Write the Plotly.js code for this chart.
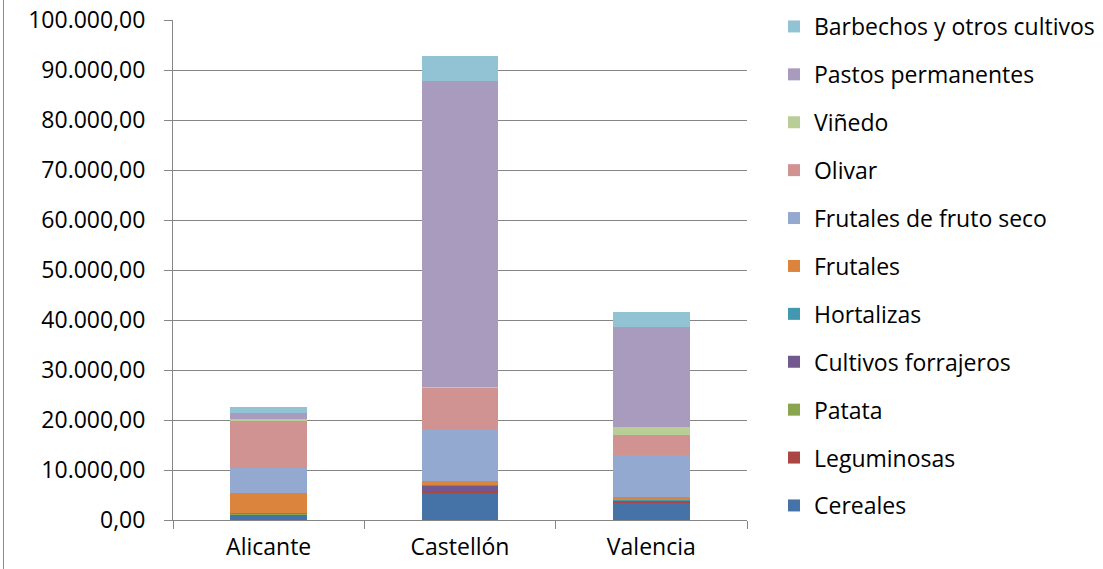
<!DOCTYPE html>
<html>
<head>
<meta charset="utf-8">
<script src="https://cdn.plot.ly/plotly-3.0.1.min.js"></script>
<style>
  html, body { margin: 0; padding: 0; background: #fff; }
  #wrap { position: relative; width: 1103px; height: 569px; }
  #frame { position: absolute; left: 3px; top: 0; width: 1px; height: 569px; background: #8c8c8c; }
  #chart { width: 1103px; height: 569px; }
</style>
</head>
<body>
<div id="wrap"><div id="chart"></div><div id="frame"></div></div>
<script>
const provincias = ["Alicante", "Castellón", "Valencia"];

const cereales            = [1000, 5470, 3470];
const leguminosas         = [50, 100, 100];
const patata              = [80, 100, 100];
const cultivosForrajeros  = [100, 1130, 150];
const hortalizas          = [100, 200, 180];
const frutales            = [4000, 800, 530];
const frutalesFrutoSeco   = [5000, 10330, 8400];
const olivar              = [9530, 8200, 4070];
const vinedo              = [330, 300, 1600];
const pastosPermanentes   = [1130, 61230, 20070];
const barbechos           = [1200, 4940, 3000];

const seriesNames = ["Cereales", "Leguminosas", "Patata", "Cultivos forrajeros", "Hortalizas",
  "Frutales", "Frutales de fruto seco", "Olivar", "Viñedo", "Pastos permanentes", "Barbechos y otros cultivos"];
const seriesValues = [cereales, leguminosas, patata, cultivosForrajeros, hortalizas,
  frutales, frutalesFrutoSeco, olivar, vinedo, pastosPermanentes, barbechos];
const seriesColors = ["#4572A7", "#AA4643", "#89A54E", "#71588F", "#4198AF",
  "#DB843D", "#93A9CF", "#D19392", "#B9CD96", "#A99BBD", "#92C3D4"];

const traces = seriesNames.map((n, i) => ({
  type: "bar",
  name: n,
  x: provincias,
  y: seriesValues[i],
  legendgroup: "g" + i,
  legendrank: 1000 - i,
  marker: { color: seriesColors[i], line: { width: 0 } }
}));

const FONT = "Open Sans";
const layout = {
  width: 1103, height: 569,
  margin: { l: 173, r: 356, t: 20, b: 49, pad: 0, autoexpand: false },
  paper_bgcolor: "#ffffff",
  plot_bgcolor: "#ffffff",
  barmode: "stack",
  bargap: 0.6,
  separators: ",.",
  font: { family: FONT, size: 23, color: "#000000" },
  showlegend: true,
  legend: {
    x: 1.047, xanchor: "left",
    y: 1.03, yanchor: "top",
    traceorder: "grouped",
    tracegroupgap: 15,
    maxheight: 569,
    font: { family: FONT, size: 23, color: "#000000" },
    itemwidth: 30,
    bgcolor: "rgba(0,0,0,0)"
  },
  xaxis: {
    type: "category",
    showgrid: false,
    showline: true, linecolor: "#868686", linewidth: 1,
    ticks: "outside", tickson: "boundaries", ticklen: 8, tickcolor: "#868686",
    tickfont: { family: FONT, size: 23, color: "#000000" },
    ticklabelstandoff: 6,
    fixedrange: true
  },
  yaxis: {
    range: [0, 100000],
    dtick: 10000,
    tick0: 0,
    tickformat: ",.2f",
    showgrid: true, gridcolor: "#868686", gridwidth: 1,
    showline: true, linecolor: "#868686", linewidth: 1,
    zeroline: false,
    ticks: "outside", ticklen: 8, tickcolor: "#868686",
    tickfont: { family: FONT, size: 23, color: "#000000" },
    ticklabelstandoff: 14,
    fixedrange: true
  }
};

Plotly.newPlot("chart", traces, layout, { displayModeBar: false, staticPlot: true });
</script>
</body>
</html>
